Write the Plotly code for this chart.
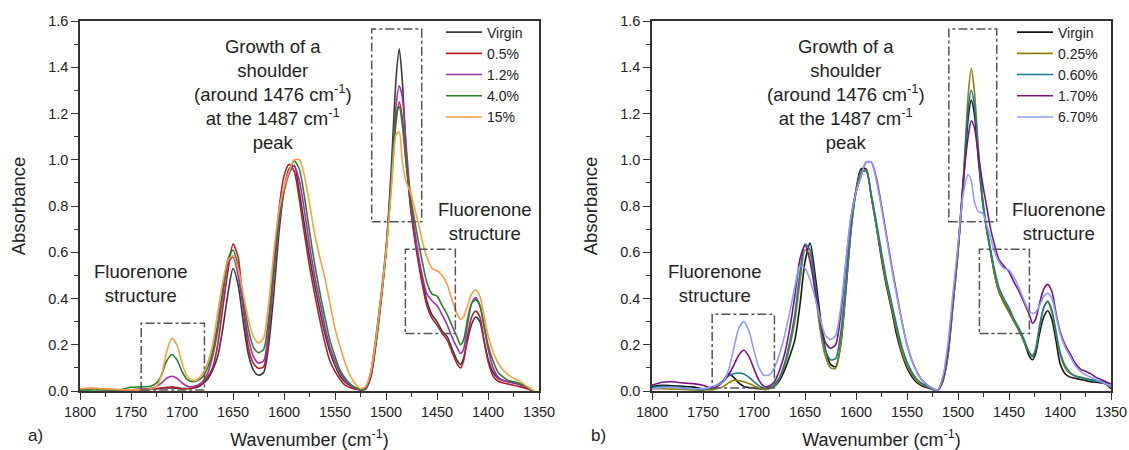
import plotly.graph_objects as go

# ---------------- data ----------------
wavenumber_a = [
    1800, 1790, 1780, 1770, 1760, 1750, 1740, 1730, 1725, 1720,
    1715, 1710, 1705, 1700, 1695, 1690, 1685, 1680, 1675, 1670,
    1665, 1660, 1655, 1650, 1645, 1640, 1635, 1630, 1625, 1620,
    1615, 1610, 1605, 1600, 1595, 1590, 1585, 1580, 1575, 1570,
    1565, 1560, 1555, 1550, 1545, 1540, 1535, 1530, 1525, 1520,
    1515, 1510, 1505, 1500, 1495, 1490, 1487, 1484, 1480, 1476,
    1472, 1468, 1464, 1460, 1455, 1450, 1445, 1440, 1435, 1430,
    1427, 1424, 1420, 1416, 1412, 1408, 1404, 1400, 1395, 1390,
    1385, 1380, 1375, 1370, 1365, 1360, 1355]
wavenumber_b = wavenumber_a + [1350]

a_virgin = [
    0.005, 0.008, 0.007, 0.005, 0.004, 0.005, 0.007, 0.010, 0.010, 0.012,
    0.013, 0.013, 0.012, 0.011, 0.011, 0.012, 0.016, 0.030, 0.050, 0.090,
    0.150, 0.270, 0.420, 0.530, 0.460, 0.300, 0.160, 0.090, 0.068, 0.080,
    0.200, 0.420, 0.680, 0.870, 0.960, 0.975, 0.860, 0.720, 0.580, 0.460,
    0.350, 0.250, 0.170, 0.110, 0.065, 0.038, 0.022, 0.012, 0.005, 0.008,
    0.060, 0.200, 0.390, 0.600, 0.950, 1.360, 1.480, 1.340, 1.020, 0.800,
    0.670, 0.560, 0.470, 0.390, 0.330, 0.300, 0.260, 0.235, 0.180, 0.130,
    0.115, 0.140, 0.220, 0.290, 0.320, 0.300, 0.220, 0.140, 0.080, 0.055,
    0.045, 0.040, 0.035, 0.030, 0.020, 0.010, 0.000]
a_05 = [
    0.008, 0.012, 0.010, 0.006, 0.004, 0.004, 0.005, 0.008, 0.010, 0.013,
    0.016, 0.018, 0.015, 0.010, 0.010, 0.013, 0.020, 0.035, 0.060, 0.100,
    0.200, 0.360, 0.520, 0.635, 0.580, 0.360, 0.190, 0.120, 0.098, 0.105,
    0.250, 0.520, 0.780, 0.930, 0.980, 0.950, 0.830, 0.680, 0.540, 0.420,
    0.310, 0.210, 0.130, 0.085, 0.050, 0.025, 0.014, 0.008, 0.004, 0.010,
    0.060, 0.200, 0.380, 0.600, 0.880, 1.170, 1.250, 1.180, 0.980, 0.800,
    0.660, 0.550, 0.450, 0.370, 0.315, 0.285, 0.250, 0.220, 0.165, 0.115,
    0.100, 0.130, 0.240, 0.320, 0.346, 0.320, 0.220, 0.130, 0.065, 0.042,
    0.035, 0.030, 0.025, 0.020, 0.014, 0.007, 0.000]
a_12 = [
    0.006, 0.008, 0.007, 0.005, 0.004, 0.005, 0.008, 0.012, 0.020, 0.035,
    0.055, 0.064, 0.055, 0.035, 0.022, 0.018, 0.025, 0.040, 0.075, 0.150,
    0.260, 0.410, 0.550, 0.580, 0.500, 0.360, 0.230, 0.150, 0.121, 0.130,
    0.270, 0.500, 0.720, 0.860, 0.940, 0.975, 0.910, 0.780, 0.630, 0.500,
    0.390, 0.280, 0.190, 0.130, 0.080, 0.045, 0.025, 0.012, 0.005, 0.012,
    0.070, 0.220, 0.400, 0.600, 0.900, 1.240, 1.320, 1.270, 1.050, 0.840,
    0.700, 0.580, 0.490, 0.420, 0.390, 0.370, 0.330, 0.285, 0.230, 0.185,
    0.163, 0.180, 0.290, 0.380, 0.404, 0.370, 0.280, 0.185, 0.100, 0.060,
    0.045, 0.040, 0.035, 0.030, 0.020, 0.010, 0.000]
a_40 = [
    0.004, 0.005, 0.006, 0.005, 0.006, 0.016, 0.018, 0.022, 0.035, 0.070,
    0.130, 0.158, 0.135, 0.085, 0.050, 0.040, 0.045, 0.060, 0.100, 0.170,
    0.290, 0.440, 0.570, 0.610, 0.540, 0.400, 0.270, 0.190, 0.166, 0.180,
    0.320, 0.550, 0.750, 0.870, 0.950, 0.995, 0.960, 0.840, 0.690, 0.550,
    0.430, 0.320, 0.220, 0.150, 0.090, 0.055, 0.030, 0.015, 0.006, 0.015,
    0.080, 0.230, 0.410, 0.620, 0.900, 1.200, 1.230, 1.150, 0.970, 0.840,
    0.740, 0.640, 0.550, 0.470, 0.420, 0.410, 0.370, 0.330, 0.280, 0.230,
    0.200, 0.220, 0.310, 0.380, 0.394, 0.370, 0.290, 0.200, 0.130, 0.080,
    0.060, 0.045, 0.040, 0.035, 0.025, 0.012, 0.000]
a_15 = [
    0.010, 0.012, 0.010, 0.008, 0.006, 0.005, 0.006, 0.010, 0.020, 0.070,
    0.170, 0.228, 0.200, 0.120, 0.065, 0.046, 0.050, 0.075, 0.120, 0.200,
    0.340, 0.470, 0.565, 0.585, 0.530, 0.420, 0.310, 0.235, 0.208, 0.230,
    0.380, 0.600, 0.780, 0.880, 0.950, 1.000, 1.000, 0.930, 0.810, 0.680,
    0.580, 0.490, 0.380, 0.270, 0.190, 0.120, 0.065, 0.030, 0.010, 0.020,
    0.080, 0.220, 0.400, 0.600, 0.860, 1.110, 1.120, 0.990, 0.900, 0.860,
    0.790, 0.720, 0.640, 0.580, 0.530, 0.520, 0.500, 0.460, 0.390, 0.330,
    0.310, 0.320, 0.370, 0.420, 0.437, 0.410, 0.330, 0.240, 0.170, 0.120,
    0.090, 0.070, 0.055, 0.045, 0.030, 0.015, 0.000]

b_virgin = [
    0.020, 0.025, 0.022, 0.020, 0.018, 0.010, 0.012, 0.045, 0.074, 0.060,
    0.035, 0.020, 0.015, 0.012, 0.010, 0.008, 0.012, 0.020, 0.045, 0.090,
    0.150, 0.220, 0.370, 0.560, 0.640, 0.500, 0.320, 0.180, 0.115, 0.105,
    0.200, 0.430, 0.690, 0.870, 0.960, 0.960, 0.840, 0.710, 0.570, 0.450,
    0.350, 0.240, 0.160, 0.100, 0.060, 0.035, 0.022, 0.014, 0.007, 0.002,
    0.040, 0.150, 0.370, 0.600, 0.880, 1.180, 1.258, 1.200, 1.000, 0.820,
    0.700, 0.600, 0.500, 0.430, 0.385, 0.345, 0.300, 0.260, 0.210, 0.150,
    0.135, 0.160, 0.250, 0.320, 0.347, 0.310, 0.220, 0.120, 0.075, 0.060,
    0.055, 0.050, 0.045, 0.040, 0.038, 0.035, 0.030, 0.010]
b_025 = [
    0.010, 0.010, 0.008, 0.007, 0.005, 0.004, 0.006, 0.020, 0.035, 0.046,
    0.045, 0.040, 0.032, 0.022, 0.012, 0.006, 0.010, 0.022, 0.055, 0.110,
    0.190, 0.300, 0.470, 0.610, 0.590, 0.430, 0.260, 0.150, 0.100, 0.098,
    0.200, 0.440, 0.690, 0.860, 0.950, 0.955, 0.840, 0.710, 0.580, 0.460,
    0.360, 0.260, 0.170, 0.110, 0.070, 0.042, 0.027, 0.017, 0.008, 0.002,
    0.040, 0.150, 0.370, 0.600, 0.900, 1.280, 1.395, 1.300, 1.050, 0.830,
    0.700, 0.600, 0.500, 0.430, 0.380, 0.340, 0.300, 0.260, 0.210, 0.165,
    0.155, 0.180, 0.280, 0.360, 0.385, 0.340, 0.250, 0.160, 0.100, 0.075,
    0.065, 0.060, 0.055, 0.050, 0.045, 0.040, 0.035, 0.015]
b_060 = [
    0.015, 0.020, 0.018, 0.015, 0.010, 0.006, 0.018, 0.045, 0.065, 0.075,
    0.078, 0.074, 0.060, 0.040, 0.022, 0.012, 0.015, 0.028, 0.060, 0.120,
    0.210, 0.330, 0.510, 0.635, 0.610, 0.460, 0.290, 0.175, 0.135, 0.140,
    0.250, 0.470, 0.710, 0.860, 0.945, 0.950, 0.850, 0.730, 0.600, 0.480,
    0.380, 0.280, 0.190, 0.125, 0.080, 0.050, 0.032, 0.020, 0.010, 0.003,
    0.050, 0.160, 0.390, 0.610, 0.900, 1.220, 1.300, 1.240, 1.030, 0.840,
    0.710, 0.610, 0.520, 0.450, 0.400, 0.360, 0.310, 0.270, 0.220, 0.165,
    0.148, 0.175, 0.280, 0.360, 0.389, 0.350, 0.260, 0.170, 0.110, 0.080,
    0.065, 0.058, 0.052, 0.048, 0.045, 0.042, 0.035, 0.018]
b_170 = [
    0.025, 0.038, 0.040, 0.035, 0.032, 0.025, 0.012, 0.040, 0.070, 0.110,
    0.155, 0.176, 0.150, 0.095, 0.045, 0.020, 0.022, 0.040, 0.090, 0.160,
    0.270, 0.410, 0.570, 0.630, 0.560, 0.430, 0.300, 0.210, 0.185, 0.200,
    0.330, 0.550, 0.750, 0.860, 0.930, 0.990, 0.990, 0.920, 0.800, 0.670,
    0.540, 0.420, 0.300, 0.200, 0.130, 0.080, 0.045, 0.025, 0.012, 0.004,
    0.050, 0.180, 0.400, 0.620, 0.900, 1.100, 1.168, 1.140, 1.020, 0.900,
    0.800, 0.700, 0.630, 0.570, 0.540, 0.515, 0.470, 0.430, 0.380, 0.330,
    0.293, 0.310, 0.380, 0.440, 0.461, 0.430, 0.340, 0.260, 0.200, 0.160,
    0.120, 0.095, 0.085, 0.075, 0.060, 0.050, 0.040, 0.030]
b_670 = [
    0.010, 0.015, 0.016, 0.012, 0.010, 0.010, 0.020, 0.040, 0.090, 0.180,
    0.270, 0.300, 0.260, 0.175, 0.100, 0.068, 0.070, 0.100, 0.160, 0.240,
    0.340, 0.450, 0.540, 0.530, 0.480, 0.400, 0.310, 0.240, 0.222, 0.240,
    0.360, 0.560, 0.750, 0.860, 0.930, 0.990, 0.990, 0.910, 0.790, 0.660,
    0.530, 0.410, 0.300, 0.200, 0.130, 0.080, 0.045, 0.025, 0.012, 0.003,
    0.060, 0.200, 0.420, 0.630, 0.850, 0.935, 0.910, 0.820, 0.775, 0.770,
    0.720, 0.660, 0.600, 0.560, 0.530, 0.523, 0.490, 0.444, 0.390, 0.345,
    0.336, 0.340, 0.370, 0.410, 0.422, 0.400, 0.330, 0.250, 0.190, 0.150,
    0.110, 0.085, 0.070, 0.060, 0.050, 0.040, 0.030, 0.020]

names_a = ["Virgin", "0.5%", "1.2%", "4.0%", "15%"]
names_b = ["Virgin", "0.25%", "0.60%", "1.70%", "6.70%"]
values_a = [a_virgin, a_05, a_12, a_40, a_15]
values_b = [b_virgin, b_025, b_060, b_170, b_670]

# ---------------- styling ----------------
FONT = "Liberation Sans, Arial, sans-serif"
colors_a = ["#3a3a3a", "#b81d2a", "#a12db5", "#23842a", "#ff9d45"]
colors_b = ["#151515", "#8f7f10", "#1b7c89", "#7a137c", "#8e9dff"]
W, H = 1129, 450
M_T, M_B = 21, 59
PLOT_H = H - M_T - M_B

fig = go.Figure()
for name, ys, col in zip(names_a, values_a, colors_a):
    fig.add_trace(go.Scatter(x=wavenumber_a, y=ys, mode="lines", name=name,
                             line=dict(color=col, width=1.6, shape="spline", smoothing=0.7),
                             xaxis="x", yaxis="y", legend="legend"))
for name, ys, col in zip(names_b, values_b, colors_b):
    fig.add_trace(go.Scatter(x=wavenumber_b, y=ys, mode="lines", name=name,
                             line=dict(color=col, width=1.6, shape="spline", smoothing=0.7),
                             xaxis="x2", yaxis="y2", legend="legend2"))

axcol = "#333333"
common = dict(showline=True, linecolor=axcol, linewidth=1.5, mirror=True,
              ticks="outside", ticklen=7, tickwidth=1.2, tickcolor=axcol,
              showgrid=False, zeroline=False, automargin=False,
              tickfont=dict(family=FONT, size=14.5, color="#222"))
xcfg = dict(common, range=[1800, 1350], autorange=False, tick0=1800, dtick=50,
            minor=dict(dtick=25, ticks="outside", ticklen=4, tickcolor=axcol, tickwidth=1.2, showgrid=False),
            title=dict(text="Wavenumber (cm<sup>-1</sup>)", font=dict(family=FONT, size=18, color="#222"), standoff=14))
ycfg = dict(common, range=[0, 1.6], autorange=False, tick0=0, dtick=0.2, tickformat=".1f",
            minor=dict(dtick=0.1, ticks="outside", ticklen=4, tickcolor=axcol, tickwidth=1.2, showgrid=False),
            title=dict(text="Absorbance", font=dict(family=FONT, size=18.5, color="#222"), standoff=18))

dom_a = [80 / W, 539 / W]
dom_b = [652 / W, 1111 / W]

legend_common = dict(xanchor="left", yanchor="top", y=1.012, bgcolor="rgba(0,0,0,0)",
                     borderwidth=0, font=dict(family=FONT, size=14, color="#222"),
                     tracegroupgap=0, itemwidth=36)

fig.update_layout(
    template="none",
    width=W, height=H, autosize=False,
    margin=dict(l=0, r=0, t=M_T, b=M_B, autoexpand=False),
    paper_bgcolor="white", plot_bgcolor="white",
    font=dict(family=FONT, color="#222"),
    xaxis=dict(xcfg, domain=dom_a, anchor="y"),
    yaxis=dict(ycfg, domain=[0, 1], anchor="x"),
    xaxis2=dict(xcfg, domain=dom_b, anchor="y2"),
    yaxis2=dict(ycfg, domain=[0, 1], anchor="x2"),
    legend=dict(legend_common, x=441 / W),
    legend2=dict(legend_common, x=1012 / W),
    showlegend=True,
)

# dash-dot boxes (data coordinates)
boxes_a = [(1514, 1465, 0.732, 1.565), (1481, 1432, 0.249, 0.613), (1740, 1678, 0.004, 0.293)]
boxes_b = [(1509, 1462, 0.732, 1.565), (1479, 1430, 0.249, 0.613), (1741, 1680, 0.013, 0.332)]
for (x0, x1, y0, y1) in boxes_a:
    fig.add_shape(type="rect", xref="x", yref="y", x0=x0, x1=x1, y0=y0, y1=y1,
                  line=dict(color="#555", width=1.5, dash="dashdot"))
for (x0, x1, y0, y1) in boxes_b:
    fig.add_shape(type="rect", xref="x2", yref="y2", x0=x0, x1=x1, y0=y0, y1=y1,
                  line=dict(color="#555", width=1.5, dash="dashdot"))

ann_font = dict(family=FONT, size=18.5, color="#222")
growth = "Growth of a<br>shoulder<br>(around 1476 cm<sup>-1</sup>)<br>at the 1487 cm<sup>-1</sup><br>peak"
fluo = "Fluorenone<br>structure"
for xr, yr, gx, rx, lx in [("x", "y", 1611, 1403, 1740), ("x2", "y2", 1610, 1401, 1738)]:
    fig.add_annotation(xref=xr, yref=yr, x=gx, y=1.284, text=growth, showarrow=False,
                       font=ann_font, align="center")
    fig.add_annotation(xref=xr, yref=yr, x=rx, y=0.735, text=fluo, showarrow=False,
                       font=ann_font, align="center")
    fig.add_annotation(xref=xr, yref=yr, x=lx, y=0.463, text=fluo, showarrow=False,
                       font=ann_font, align="center")

py = (H - M_B - 447) / PLOT_H
fig.add_annotation(xref="paper", yref="paper", x=26 / W, y=py, text="a)", showarrow=False,
                   font=dict(family=FONT, size=17, color="#222"))
fig.add_annotation(xref="paper", yref="paper", x=598 / W, y=py, text="b)", showarrow=False,
                   font=dict(family=FONT, size=17, color="#222"))

fig.write_html("out.html")
